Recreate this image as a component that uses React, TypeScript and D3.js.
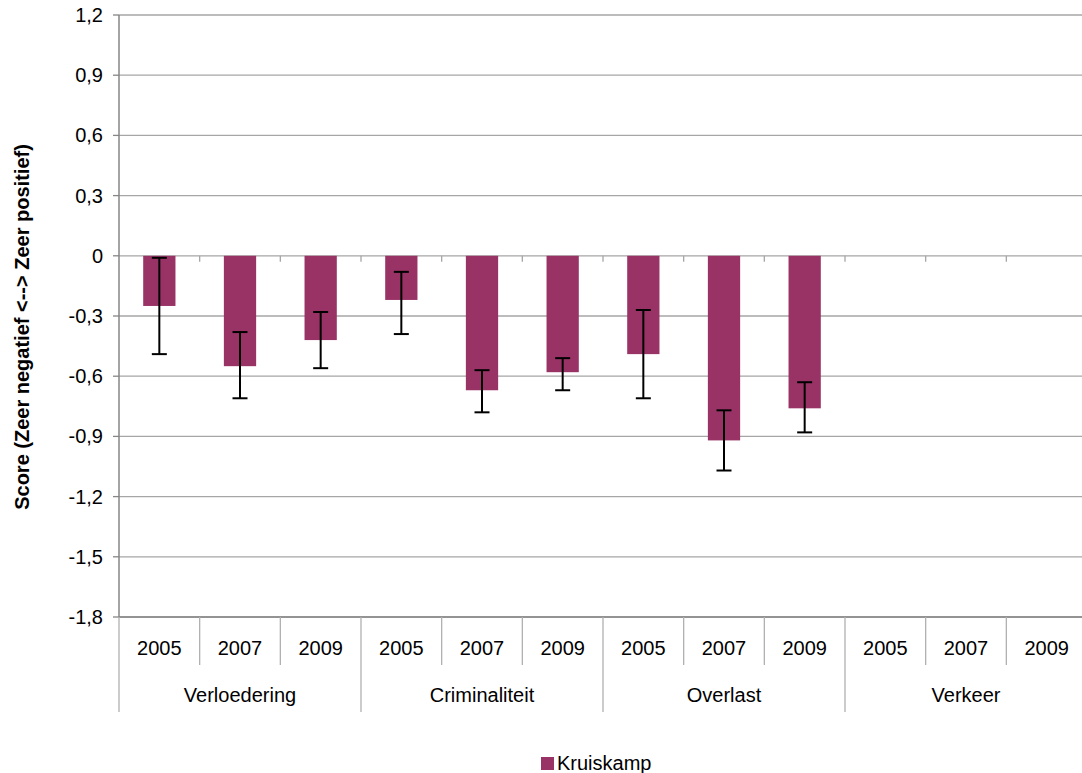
import React from "react";
import * as d3 from "d3";

const groups = ["Verloedering", "Criminaliteit", "Overlast", "Verkeer"];
const years = ["2005", "2007", "2009"];
// Kruiskamp scores per group x year (null = no data)
const values: (number | null)[] = [-0.25, -0.55, -0.42, -0.22, -0.67, -0.58, -0.49, -0.92, -0.76, null, null, null];
const errLow: (number | null)[] = [-0.49, -0.71, -0.56, -0.39, -0.78, -0.67, -0.71, -1.07, -0.88, null, null, null];
const errHigh: (number | null)[] = [-0.01, -0.38, -0.28, -0.08, -0.57, -0.51, -0.27, -0.77, -0.63, null, null, null];
const yTicks = [1.2, 0.9, 0.6, 0.3, 0, -0.3, -0.6, -0.9, -1.2, -1.5, -1.8];
const seriesName = "Kruiskamp";

const W = 1082, H = 773;
const left = 119, right = 1087, top = 15, bottom = 617;
const font = "Liberation Sans, Arial, sans-serif";
const fs = 20;
const barColor = "#993366";

export default function App() {
  const keys = groups.flatMap((g) => years.map((y) => g + "|" + y));
  const x = d3.scaleBand<string>().domain(keys).range([left, right]).paddingInner(0).paddingOuter(0);
  const y = d3.scaleLinear().domain([-1.8, 1.2]).range([bottom, top]);
  const bw = x.bandwidth();
  const barW = bw * 0.4;
  const fmt = (v: number) => (v === 0 ? "0" : d3.format(".1f")(v).replace(".", ",").replace("−", "-"));

  return (
    <svg width={W} height={H} style={{ position: "absolute", left: 0, top: 0, background: "#fff" }}>
      {/* gridlines */}
      {yTicks.map((t) => (
        <g key={t}>
          <line x1={left} x2={right} y1={y(t)} y2={y(t)} stroke="#a6a6a6" strokeWidth={1.3} />
          <line x1={left - 6} x2={left} y1={y(t)} y2={y(t)} stroke="#868686" strokeWidth={1.3} />
          <text x={103} y={y(t)} dy="0.35em" textAnchor="end" fontFamily={font} fontSize={fs} fill="#000">
            {fmt(t)}
          </text>
        </g>
      ))}
      {/* small tick marks on zero line between years */}
      {keys.map((k, i) => (
        <line key={"zt" + k} x1={x(k)!} x2={x(k)!} y1={y(0)} y2={y(0) + 6} stroke="#a6a6a6" strokeWidth={1.3} opacity={i === 0 ? 0 : 1} />
      ))}
      {/* bars */}
      {keys.map((k, i) => {
        const v = values[i];
        if (v == null) return null;
        const cx = x(k)! + bw / 2;
        return (
          <rect key={"b" + k} x={cx - barW / 2} width={barW} y={y(Math.max(0, v))} height={Math.abs(y(v) - y(0))} fill={barColor} />
        );
      })}
      {/* error bars */}
      {keys.map((k, i) => {
        const lo = errLow[i], hi = errHigh[i];
        if (lo == null || hi == null) return null;
        const cx = x(k)! + bw / 2;
        return (
          <g key={"e" + k} stroke="#000" strokeWidth={2}>
            <line x1={cx} x2={cx} y1={y(hi)} y2={y(lo)} />
            <line x1={cx - 7.5} x2={cx + 7.5} y1={y(hi)} y2={y(hi)} />
            <line x1={cx - 7.5} x2={cx + 7.5} y1={y(lo)} y2={y(lo)} />
          </g>
        );
      })}
      {/* axes */}
      <line x1={left} x2={left} y1={top} y2={bottom} stroke="#868686" strokeWidth={1.5} />
      <line x1={left} x2={right} y1={bottom} y2={bottom} stroke="#868686" strokeWidth={1.5} />
      {/* category axis: year dividers and labels */}
      {keys.map((k, i) => {
        const isGroupStart = i % 3 === 0;
        return (
          <g key={"c" + k}>
            <line x1={x(k)!} x2={x(k)!} y1={bottom} y2={isGroupStart ? 712 : 665} stroke="#b0b0b0" strokeWidth={1.3} />
            <text x={x(k)! + bw / 2} y={648} dy="0.35em" textAnchor="middle" fontFamily={font} fontSize={fs} fill="#000">
              {years[i % 3]}
            </text>
          </g>
        );
      })}
      {groups.map((g) => {
        const x0 = x(g + "|" + years[0])!;
        const x1 = x(g + "|" + years[2])! + bw;
        return (
          <text key={"g" + g} x={(x0 + x1) / 2} y={695} dy="0.35em" textAnchor="middle" fontFamily={font} fontSize={fs} fill="#000">
            {g}
          </text>
        );
      })}
      {/* y-axis title */}
      <text
        transform={`translate(29, 327) rotate(-90)`}
        textAnchor="middle"
        fontFamily={font}
        fontSize={fs}
        fontWeight="bold"
        fill="#000"
      >
        Score (Zeer negatief &lt;--&gt; Zeer positief)
      </text>
      {/* legend */}
      <rect x={541} y={757} width={13} height={13} fill={barColor} />
      <text x={557} y={763} dy="0.35em" fontFamily={font} fontSize={fs} fill="#000">
        {seriesName}
      </text>
    </svg>
  );
}
